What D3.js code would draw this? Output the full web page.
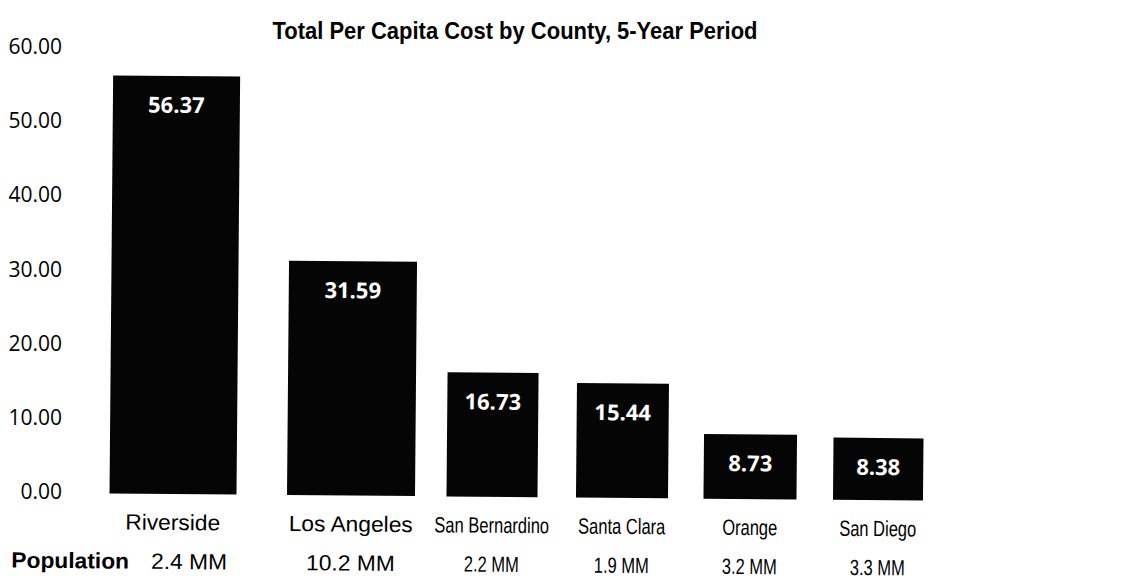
<!DOCTYPE html>
<html><head><meta charset="utf-8">
<script src="https://cdn.jsdelivr.net/npm/d3@7"></script>
<style>html,body{margin:0;padding:0;background:#fff;} svg{display:block}</style>
</head><body><svg id="chart" width="1123" height="581"></svg>
<script>
// ---------- data ----------
const title = "Total Per Capita Cost by County, 5-Year Period";
const categories = ["Riverside", "Los Angeles", "San Bernardino", "Santa Clara", "Orange", "San Diego"];
const values = [56.37, 31.59, 16.73, 15.44, 8.73, 8.38];
const populations = ["2.4 MM", "10.2 MM", "2.2 MM", "1.9 MM", "3.2 MM", "3.3 MM"];
const populationLabel = "Population";
const yTicks = [0, 10, 20, 30, 40, 50, 60];

// ---------- layout ----------
const baseline = 494, yTop = 49;
const barCenters = [173, 351, 492, 622, 750, 878];
const barWidths = [127, 128, 91, 92, 93, 90];
const hStretch = [1.38, 1.38, 1, 1, 1, 1];
const narrow = 0.75;
const labelSize = "22px";
const skewDeg = 0.5;
const titleWidth = 485;

const svg = d3.select("#chart");
const y = d3.scaleLinear().domain([0, 60]).range([baseline, yTop]);
const xC = d3.scaleOrdinal().domain(categories).range(barCenters);
const xW = d3.scaleOrdinal().domain(categories).range(barWidths);
const xS = d3.scaleOrdinal().domain(categories).range(hStretch);

function squash(sel, f) {
  sel.each(function (d, i) {
    const L = this.getComputedTextLength();
    d3.select(this).attr("textLength", L * f(d, i)).attr("lengthAdjust", "spacingAndGlyphs");
  });
}

// title
svg.append("text")
  .attr("x", 515).attr("y", 39)
  .attr("text-anchor", "middle")
  .style("font-family", "'Liberation Sans', Arial, sans-serif")
  .style("font-weight", "bold").style("font-size", "24px").attr("fill", "#000")
  .attr("textLength", titleWidth).attr("lengthAdjust", "spacingAndGlyphs")
  .text(title);

// y axis (labels only)
const yAxis = d3.axisLeft(y).tickValues(yTicks).tickFormat(d3.format(".2f")).tickSize(0).tickPadding(0);
const ya = svg.append("g").attr("transform", "translate(62,0)").call(yAxis);
ya.select(".domain").remove();
ya.selectAll("text")
  .attr("dy", "0.22em")
  .style("font-family", "'Open Sans', sans-serif")
  .style("font-size", "21px").attr("fill", "#000");

// rotated (scan skew) group
const g = svg.append("g").attr("transform", `rotate(${skewDeg},173,${baseline})`);

g.selectAll("rect.bar").data(categories).join("rect")
  .attr("class", "bar")
  .attr("x", (d) => xC(d) - xW(d) / 2)
  .attr("width", (d) => xW(d))
  .attr("y", (d, i) => y(values[i]))
  .attr("height", (d, i) => y(0) - y(values[i]))
  .attr("fill", "#050505");

g.selectAll("text.val").data(categories).join("text")
  .attr("class", "val")
  .attr("x", (d) => xC(d))
  .attr("y", (d, i) => y(values[i]) + 29)
  .attr("dy", "0.36em")
  .attr("text-anchor", "middle")
  .style("font-family", "'Open Sans', sans-serif")
  .style("font-weight", "bold").style("font-size", "22px")
  .attr("fill", "#fff")
  .text((d, i) => d3.format(".2f")(values[i]));

const cat = g.selectAll("text.cat").data(categories).join("text")
  .attr("class", "cat")
  .attr("x", (d) => xC(d))
  .attr("y", 530)
  .attr("text-anchor", "middle")
  .style("font-family", "'Liberation Sans', Arial, sans-serif")
  .style("font-size", labelSize).attr("fill", "#000")
  .text((d) => d);
squash(cat, (d) => narrow * xS(d));

const popY = 569;
const popLab = g.append("text")
  .attr("x", 12).attr("y", popY)
  .style("font-family", "'Liberation Sans', Arial, sans-serif")
  .style("font-weight", "bold").style("font-size", labelSize).attr("fill", "#000")
  .text(populationLabel);
squash(popLab, () => narrow * hStretch[0]);
const popEnd = 12 + popLab.node().getComputedTextLength() * narrow * hStretch[0];

const pop = g.selectAll("text.pop").data(categories).join("text")
  .attr("class", "pop")
  .attr("y", popY)
  .attr("text-anchor", "middle")
  .style("font-family", "'Liberation Sans', Arial, sans-serif")
  .style("font-size", labelSize).attr("fill", "#000")
  .text((d, i) => populations[i]);
squash(pop, (d) => narrow * xS(d));
pop.attr("x", function (d) {
  const w = +this.getAttribute("textLength");
  return Math.max(xC(d), popEnd + 18 + w / 2);
});
</script>
</body></html>
